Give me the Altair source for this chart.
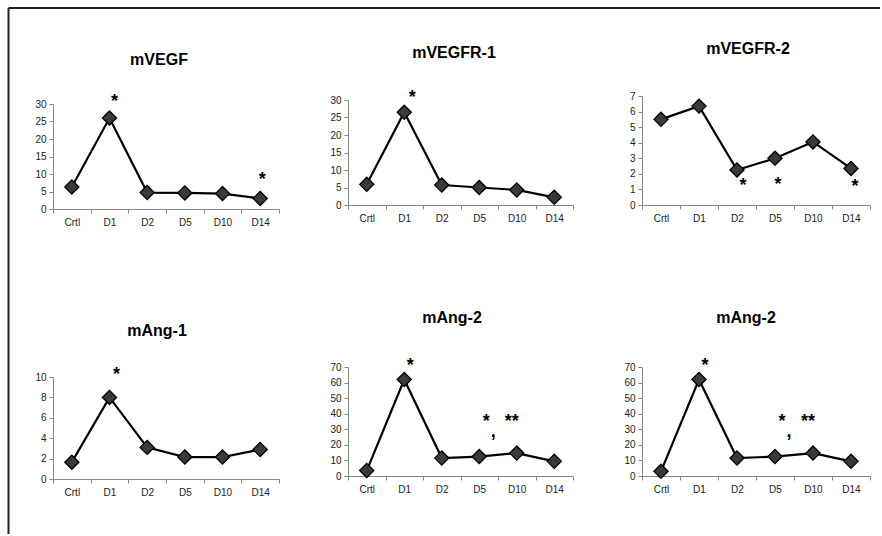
import altair as alt
import pandas as pd

# ---------------- data ----------------
categories = ["Crtl", "D1", "D2", "D5", "D10", "D14"]
titles = ["mVEGF", "mVEGFR-1", "mVEGFR-2", "mAng-1", "mAng-2", "mAng-2"]

vegf = [6.3, 26.0, 4.7, 4.6, 4.4, 3.0]
vegfr1 = [5.9, 26.5, 5.7, 5.0, 4.3, 2.2]
vegfr2 = [5.5, 6.35, 2.25, 3.0, 4.05, 2.35]
ang1 = [1.65, 8.0, 3.1, 2.15, 2.15, 2.9]
ang2_a = [3.5, 62.0, 11.5, 12.5, 14.7, 9.4]
ang2_b = [3.0, 62.0, 11.5, 12.5, 14.7, 9.4]

y_max = [30, 30, 7, 10, 70, 70]
y_step = [5, 5, 1, 2, 10, 10]

# significance annotations: category, value, symbol
sig_vegf = [("D1", 32.0, "*"), ("D14", 9.7, "*")]
sig_vegfr1 = [("D1", 32.0, "*")]
sig_vegfr2 = [("D2", 1.55, "*"), ("D5", 1.6, "*"), ("D14", 1.45, "*")]
sig_ang1 = [("D1", 10.7, "*")]
sig_ang2_a = [("D1", 74.0, "*"), ("D5", 38.0, "*"), ("D5", 31.5, ","), ("D10", 38.0, "**")]
sig_ang2_b = [("D1", 74.0, "*"), ("D5", 38.0, "*"), ("D5", 31.5, ","), ("D10", 38.0, "**")]

series = [vegf, vegfr1, vegfr2, ang1, ang2_a, ang2_b]
sigs = [sig_vegf, sig_vegfr1, sig_vegfr2, sig_ang1, sig_ang2_a, sig_ang2_b]

# ---------------- layout / style ----------------
FONT = "Liberation Sans"
col_widths = [226, 225, 228]
row_height = 109
y_ranges = [[113, 8], [109, 4], [109, 0], [112, 10], [109, 0], [109, 0]]
x_offsets = [4, 0, 0, 3, 0, 0]
title_pos = [(106, -31), (106, -38), (106, -42), (104, -31), (104, -44), (104, -44)]
sig_dx = [[5, 2], [8], [6, 3, 4], [7], [6, 7, 14, -5], [6, 7, 14, -5]]


def panel(i):
    w = col_widths[i % 3]
    df = pd.DataFrame({"cat": categories, "v": series[i]})
    x = alt.X(
        "cat:N",
        sort=categories,
        scale=alt.Scale(paddingInner=0, paddingOuter=0),
        axis=alt.Axis(
            title=None, labelAngle=0, tickBand="extent", offset=x_offsets[i],
            tickSize=4, labelPadding=4, labelFontSize=10,
        ),
    )
    y = alt.Y(
        "v:Q",
        scale=alt.Scale(domain=[0, y_max[i]], range=y_ranges[i], nice=False, zero=True),
        axis=alt.Axis(
            title=None, values=list(range(0, y_max[i] + 1, y_step[i])),
            tickSize=4, labelPadding=3, labelFontSize=10, labelFlush=False,
            labelOverlap=False,
        ),
    )
    base = alt.Chart(df).encode(x=x, y=y)
    line = base.mark_line(color="black", strokeWidth=2.2)
    pts = base.mark_point(
        shape="diamond", size=200, filled=True, fill="#3a3a3a",
        stroke="black", strokeWidth=1.3, opacity=1,
    )
    layers = [line, pts]
    for (cat, val, sym), dx in zip(sigs[i], sig_dx[i]):
        sdf = pd.DataFrame({"cat": [cat], "v": [val], "t": [sym]})
        layers.append(
            alt.Chart(sdf)
            .mark_text(dx=dx, dy=5, fontSize=18, fontWeight="bold", font=FONT, color="black")
            .encode(x=x, y=y, text="t:N")
        )
    tx, ty = title_pos[i]
    tdf = pd.DataFrame({"t": [titles[i]]})
    layers.append(
        alt.Chart(tdf)
        .mark_text(fontSize=16, fontWeight="bold", font=FONT, color="black",
                   align="center", baseline="alphabetic")
        .encode(x=alt.value(tx), y=alt.value(ty), text="t:N")
    )
    if i == 0:
        fdf = pd.DataFrame({"k": [0]})
        frame_top = alt.Chart(fdf).mark_rule(color="#222", strokeWidth=2).encode(
            x=alt.value(-44.5), x2=alt.value(827), y=alt.value(-88)
        )
        frame_left = alt.Chart(fdf).mark_rule(color="#222", strokeWidth=2).encode(
            x=alt.value(-44.5), y=alt.value(-88), y2=alt.value(438)
        )
        layers += [frame_top, frame_left]
    return alt.layer(*layers).properties(width=w, height=row_height)


chart = (
    alt.concat(*[panel(i) for i in range(6)], columns=3,
               spacing={"row": 162, "column": 69}, bounds="flush")
    .properties(padding={"left": 7, "top": 7, "right": 0, "bottom": 0}, background="white")
    .configure_view(stroke=None)
    .configure_axis(
        grid=False, domainColor="#888888", tickColor="#888888",
        labelColor="#222222", labelFont=FONT, domainWidth=1, tickWidth=1,
    )
)

chart.save("out.html", embed_options={"renderer": "svg", "actions": False})
